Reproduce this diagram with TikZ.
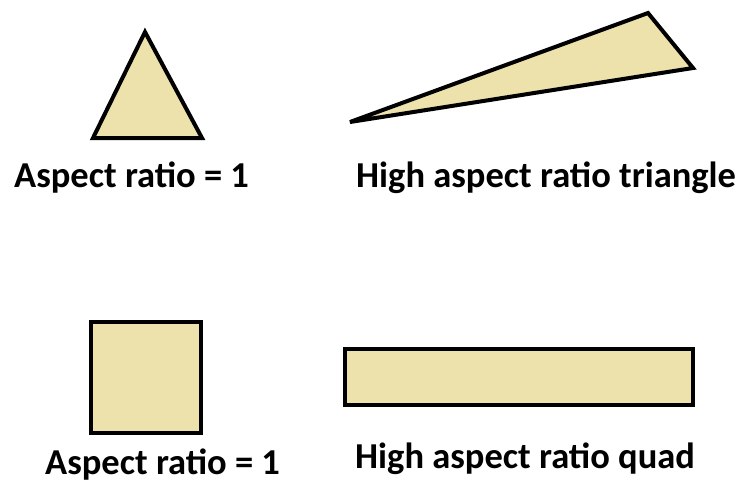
\documentclass[tikz,border=0pt]{standalone}
\usepackage{fontspec}
\setmainfont{Carlito}
\definecolor{beige}{RGB}{237,225,172}
\tikzset{
  shp/.style={draw=black, fill=beige, line width=4pt, line join=miter},
  lbl/.style={font=\bfseries\fontsize{36.5}{40}\selectfont, inner sep=0pt, anchor=base west}
}
\begin{document}
\begin{tikzpicture}[x=1pt,y=-1pt]
\useasboundingbox (0,0) rectangle (739,482);
% triangles
\draw[shp] (145,32) -- (202,138) -- (93,138) -- cycle;
\draw[shp] (350,122) -- (648,13) -- (693,68) -- cycle;
% quads
\draw[shp] (91,322) rectangle (201,433);
\draw[shp] (345,349) rectangle (693,405);
% labels
\node[lbl] (l1) at (14,187) {Aspect ratio = 1};
\node[lbl] (l2) at (356,187) {High aspect ratio triangle};
\node[lbl] (l3) at (45,474) {Aspect ratio = 1};
\node[lbl] (l4) at (355,468) {High aspect ratio quad};
\end{tikzpicture}
\end{document}
